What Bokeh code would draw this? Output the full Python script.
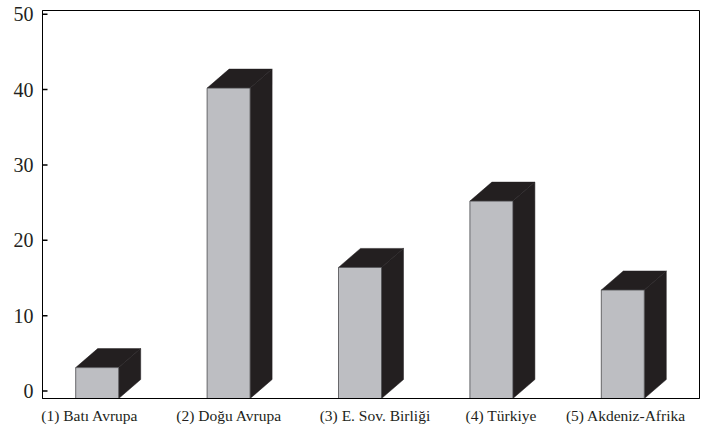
from bokeh.plotting import figure
from bokeh.models import Range1d, FixedTicker, ColumnDataSource
from bokeh.embed import file_html
from bokeh.resources import INLINE

# Data
regions = ["(1) Batı Avrupa", "(2) Doğu Avrupa", "(3) E. Sov. Birliği",
           "(4) Türkiye", "(5) Akdeniz-Afrika"]
values = [3.1, 40.2, 16.4, 25.2, 13.4]
y_ticks = [0, 10, 20, 30, 40, 50]
# label anchor positions along the x axis (category index units)
label_pos = [0.86, 1.92, 3.03, 3.99, 4.94]

W, H = 701, 432
LEFT, RIGHT, TOP, BOTTOM = 42, 2, 10, 34
X0, X1 = 0.5, 5.5
Y0, Y1 = -1.0, 50.5

FACE = "#bdbec2"
DARK = "#231f20"
SERIF = "'Liberation Serif', 'Times New Roman', serif"

p = figure(width=W, height=H, output_backend="svg", toolbar_location=None,
           x_range=Range1d(X0, X1), y_range=Range1d(Y0, Y1),
           min_border_left=LEFT, min_border_right=RIGHT,
           min_border_top=TOP, min_border_bottom=BOTTOM)

# pixel -> data conversion for the 3D extrusion
fw = W - LEFT - RIGHT
fh = H - TOP - BOTTOM
ux = (X1 - X0) / fw
uy = (Y1 - Y0) / fh
front_w = 43 * ux
depth_x = 22 * ux
depth_y = 19 * uy

lefts, rights = [], []
side_xs, side_ys, top_xs, top_ys = [], [], [], []
for i, v in enumerate(values, start=1):
    x0 = i - (front_w + depth_x) / 2
    x1 = x0 + front_w
    lefts.append(x0)
    rights.append(x1)
    side_xs.append([x1, x1, x1 + depth_x, x1 + depth_x])
    side_ys.append([Y0, v, v + depth_y, Y0 + depth_y])
    top_xs.append([x0, x1, x1 + depth_x, x0 + depth_x])
    top_ys.append([v, v, v + depth_y, v + depth_y])

p.patches(side_xs, side_ys, fill_color=DARK, line_color=DARK, line_width=0.5)
p.patches(top_xs, top_ys, fill_color=DARK, line_color=DARK, line_width=0.5)

src = ColumnDataSource(dict(left=lefts, right=rights, top=values,
                            bottom=[Y0] * len(values)))
p.quad(left="left", right="right", top="top", bottom="bottom", source=src,
       fill_color=FACE, line_color="#4a4a4c", line_width=0.8)

# short inward tick marks on the value axis
p.segment(x0=[X0] * len(y_ticks), x1=[X0 + 5 * ux] * len(y_ticks),
          y0=y_ticks, y1=y_ticks, line_color="#000000", line_width=1.5)

# frame and grid
p.xgrid.visible = False
p.ygrid.visible = False
p.outline_line_color = "#000000"
p.outline_line_width = 1
p.outline_line_alpha = 1
p.background_fill_color = "white"
p.border_fill_color = "white"

# y axis
p.yaxis.ticker = FixedTicker(ticks=y_ticks)
p.yaxis.major_tick_in = 0
p.yaxis.major_tick_out = 0
p.yaxis.major_tick_line_color = None
p.yaxis.minor_tick_line_color = None
p.yaxis.axis_line_color = "#000000"
p.yaxis.major_label_text_font = SERIF
p.yaxis.major_label_text_font_size = "20px"
p.yaxis.major_label_text_color = DARK
p.yaxis.major_label_standoff = 9

# x axis with region names
p.xaxis.ticker = FixedTicker(ticks=label_pos)
p.xaxis.major_label_overrides = {pos: name for pos, name in zip(label_pos, regions)}
p.xaxis.major_tick_in = 0
p.xaxis.major_tick_out = 0
p.xaxis.major_tick_line_color = None
p.xaxis.minor_tick_line_color = None
p.xaxis.axis_line_color = "#000000"
p.xaxis.major_label_text_font = SERIF
p.xaxis.major_label_text_font_size = "15.5px"
p.xaxis.major_label_text_color = DARK
p.xaxis.major_label_standoff = 8

open("out.html", "w").write(file_html(p, INLINE))
